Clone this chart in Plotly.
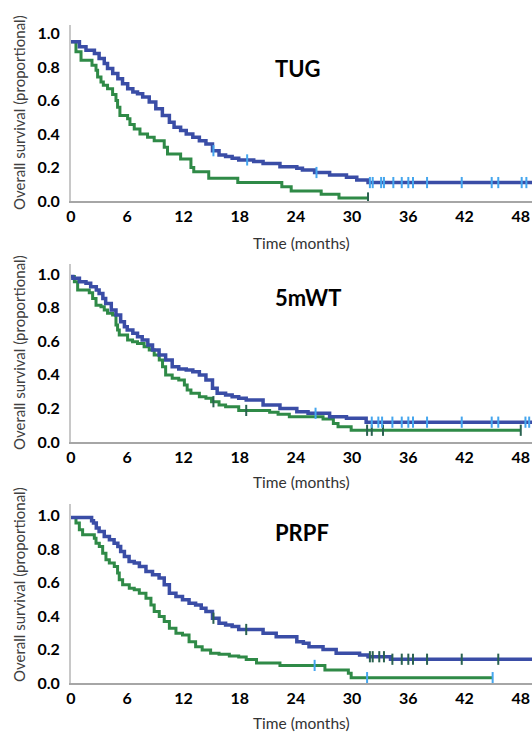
import plotly.graph_objects as go

# ---------------- data ----------------
x_ticks = [0, 6, 12, 18, 24, 30, 36, 42, 48]
y_ticks = [0.0, 0.2, 0.4, 0.6, 0.8, 1.0]
panel_titles = ["TUG", "5mWT", "PRPF"]

# TUG
tug_blue_t = [0, 0.9, 1.6, 2.5, 3.0, 3.55, 3.9, 4.45, 5.0, 5.5, 6.05, 6.6, 7.1, 7.65, 8.35, 9.05, 9.75,
              10.5, 11.0, 11.7, 12.3, 13.0, 13.7, 14.4, 15.1, 15.8, 16.5, 17.2, 17.9, 19.5, 20.5, 22.3,
              24.1, 24.7, 26.0, 27.6, 29.4, 30.5, 31.7, 50]
tug_blue_s = [0.95, 0.92, 0.90, 0.88, 0.85, 0.82, 0.79, 0.76, 0.73, 0.70, 0.67, 0.65, 0.64, 0.62, 0.59, 0.55,
              0.51, 0.47, 0.44, 0.42, 0.40, 0.38, 0.36, 0.34, 0.30, 0.275, 0.265, 0.255, 0.245, 0.235,
              0.224, 0.204, 0.195, 0.185, 0.17, 0.155, 0.141, 0.125, 0.11, 0.11]
tug_blue_cens = [15.2, 18.8, 26.2, 31.9, 32.2, 33.1, 33.4, 34.4, 35.3, 36.0, 36.5, 38.0, 41.7, 44.9,
                 45.6, 48.1, 48.6]
tug_green_t = [0, 0.53, 1.07, 2.24, 2.67, 2.84, 3.2, 3.45, 3.9, 4.44, 4.8, 4.97, 5.22, 6.04, 6.29, 6.75,
               7.36, 8.17, 8.88, 9.95, 10.3, 11.7, 12.8, 13.1, 14.7, 17.8, 22.5, 23.5, 26.7, 28.6, 31.7]
tug_green_s = [0.95, 0.89, 0.84, 0.81, 0.78, 0.74, 0.71, 0.69, 0.67, 0.635, 0.60, 0.56, 0.51, 0.49, 0.456,
               0.43, 0.40, 0.38, 0.36, 0.32, 0.28, 0.25, 0.20, 0.175, 0.135, 0.11, 0.085, 0.06, 0.04,
               0.018, 0.018]
tug_green_cens = [31.7]

# 5mWT
mwt_blue_t = [0, 0.2, 0.9, 1.6, 2.1, 2.7, 3.0, 3.4, 3.7, 4.3, 4.8, 5.3, 5.7, 6.0, 6.6, 7.1, 7.6, 8.2, 8.7,
              9.4, 10.1, 10.8, 11.5, 12.3, 13.0, 13.7, 14.4, 15.1, 15.6, 16.5, 17.2, 17.9, 18.7, 20.5,
              22.3, 24.1, 25.3, 27.6, 29.4, 31.5, 50]
mwt_blue_s = [0.985, 0.975, 0.955, 0.945, 0.925, 0.905, 0.885, 0.855, 0.825, 0.786, 0.756, 0.716, 0.687,
              0.667, 0.647, 0.627, 0.607, 0.577, 0.548, 0.518, 0.488, 0.448, 0.435, 0.429, 0.419, 0.399,
              0.369, 0.32, 0.29, 0.28, 0.27, 0.26, 0.25, 0.22, 0.20, 0.18, 0.171, 0.15, 0.141, 0.118,
              0.118]
mwt_blue_cens = [26.1, 32.1, 32.8, 33.2, 34.3, 35.3, 36.0, 36.5, 38.0, 41.7, 44.9, 45.6, 48.5, 48.9]
mwt_green_t = [0, 0.36, 0.71, 1.95, 2.31, 2.67, 3.2, 3.55, 3.9, 4.44, 4.8, 4.97, 5.15, 6.04, 6.57, 7.1,
               7.8, 8.35, 8.88, 9.42, 9.77, 10.1, 10.8, 11.5, 12.1, 12.4, 12.8, 13.7, 14.4, 15.0, 15.8,
               16.5, 17.9, 21.2, 22.1, 23.3, 26.9, 28.0, 28.5, 29.9, 48.0]
mwt_green_s = [0.985, 0.954, 0.905, 0.889, 0.855, 0.815, 0.806, 0.786, 0.766, 0.756, 0.696, 0.667, 0.637,
               0.607, 0.597, 0.587, 0.567, 0.548, 0.518, 0.488, 0.448, 0.399, 0.379, 0.369, 0.339, 0.31,
               0.29, 0.27, 0.26, 0.24, 0.22, 0.21, 0.188, 0.177, 0.165, 0.15, 0.137, 0.11, 0.091, 0.07,
               0.07]
mwt_green_cens = [15.2, 18.7, 31.6, 32.1, 33.3, 48.0]

# PRPF
prpf_blue_t = [0, 2.2, 2.4, 2.7, 3.0, 3.55, 4.1, 4.6, 5.0, 5.3, 5.7, 6.2, 6.75, 7.3, 8.0, 8.7, 9.4, 9.95,
               10.5, 11.2, 11.9, 12.6, 13.3, 13.9, 14.4, 15.1, 15.8, 16.5, 17.2, 17.9, 20.5, 21.9, 24.1,
               24.8, 25.4, 26.9, 28.3, 30.8, 31.7, 34.1, 50]
prpf_blue_s = [0.99, 0.97, 0.956, 0.926, 0.906, 0.876, 0.856, 0.836, 0.816, 0.786, 0.756, 0.727, 0.717,
               0.697, 0.667, 0.647, 0.627, 0.587, 0.537, 0.517, 0.497, 0.477, 0.467, 0.447, 0.427, 0.387,
               0.357, 0.347, 0.337, 0.32, 0.297, 0.277, 0.247, 0.237, 0.217, 0.20, 0.178, 0.168, 0.157,
               0.142, 0.142]
prpf_blue_cens = [15.2, 18.7, 31.9, 32.2, 32.9, 33.4, 34.3, 35.3, 36.0, 36.5, 38.0, 41.7, 45.6]
prpf_green_t = [0, 0.53, 0.89, 1.24, 2.49, 2.67, 3.02, 3.38, 3.73, 4.09, 4.62, 4.97, 5.15, 5.51, 6.22,
                6.75, 7.29, 8.0, 8.53, 8.88, 9.42, 9.95, 10.5, 11.2, 11.9, 12.6, 13.3, 14.0, 14.9, 15.8,
                16.9, 17.9, 18.7, 19.8, 22.3, 27.1, 29.6, 29.9, 45.0]
prpf_green_s = [0.99, 0.956, 0.916, 0.886, 0.866, 0.836, 0.816, 0.776, 0.737, 0.717, 0.697, 0.657, 0.617,
                0.587, 0.567, 0.557, 0.537, 0.507, 0.467, 0.427, 0.397, 0.367, 0.327, 0.297, 0.287,
                0.247, 0.217, 0.198, 0.178, 0.172, 0.162, 0.155, 0.14, 0.12, 0.105, 0.078, 0.058, 0.032,
                0.032]
prpf_green_cens = [26.0, 31.6, 45.0]

# ---------------- style ----------------
W, H = 532, 733
BLUE = "#3a4da6"
GREEN = "#2f8a47"
LIGHT_BLUE = "#45a6ee"
DARK_GREEN = "#2a6250"
FONT = "Lato"

panels = [
    dict(bottom=201, top=25, ymax=1.05, title_xy=(298, 68), ytitle_y=113, xtitle_y=243,
         blue=(tug_blue_t, tug_blue_s, tug_blue_cens, LIGHT_BLUE),
         green=(tug_green_t, tug_green_s, tug_green_cens, DARK_GREEN)),
    dict(bottom=442, top=264, ymax=1.06, title_xy=(308, 297), ytitle_y=353, xtitle_y=482,
         blue=(mwt_blue_t, mwt_blue_s, mwt_blue_cens, LIGHT_BLUE),
         green=(mwt_green_t, mwt_green_s, mwt_green_cens, DARK_GREEN)),
    dict(bottom=683, top=504, ymax=1.07, title_xy=(302, 532), ytitle_y=585, xtitle_y=723,
         blue=(prpf_blue_t, prpf_blue_s, prpf_blue_cens, DARK_GREEN),
         green=(prpf_green_t, prpf_green_s, prpf_green_cens, LIGHT_BLUE)),
]
X0 = 71
XMAX = 49.2


def step_value(t, times, surv):
    v = surv[0]
    for tt, ss in zip(times, surv):
        if tt <= t:
            v = ss
    return v


fig = go.Figure()
layout = dict(width=W, height=H, margin=dict(l=0, r=0, t=0, b=0, autoexpand=False),
              paper_bgcolor="white", plot_bgcolor="white", showlegend=False,
              annotations=[])

for i, p in enumerate(panels):
    k = "" if i == 0 else str(i + 1)
    xa, ya = "x" + k, "y" + k
    for key, col, width in [("green", GREEN, 3), ("blue", BLUE, 3.5)]:
        t, s, cens, ccol = p[key]
        fig.add_trace(go.Scatter(x=t, y=s, mode="lines", line=dict(color=col, width=width, shape="hv"),
                                 xaxis=xa, yaxis=ya, hoverinfo="skip"))
        fig.add_trace(go.Scatter(x=cens, y=[step_value(c, t, s) for c in cens], mode="markers",
                                 marker=dict(symbol="line-ns", size=8, line=dict(color=ccol, width=2)),
                                 xaxis=xa, yaxis=ya, hoverinfo="skip"))
    ydom = [(H - p["bottom"]) / H, (H - p["top"]) / H]
    layout["xaxis" + k] = dict(domain=[X0 / W, 1], range=[0, XMAX], anchor=ya, automargin=False,
                               tickvals=x_ticks, ticktext=[str(v) for v in x_ticks],
                               showgrid=False, zeroline=False, showline=True,
                               linecolor="#a6a6a6", linewidth=2, ticks="",
                               tickfont=dict(family=FONT, size=16, color="#000000", weight="bold"))
    layout["yaxis" + k] = dict(domain=ydom, range=[0, p["ymax"]], anchor=xa, automargin=False,
                               tickvals=y_ticks, ticktext=[f"{v:.1f}" for v in y_ticks],
                               showgrid=False, zeroline=False, showline=True,
                               linecolor="#c8c8c8", linewidth=2, ticks="", ticklabelstandoff=6,
                               tickfont=dict(family=FONT, size=16, color="#000000", weight="bold"))
    tx, ty = p["title_xy"]
    layout["annotations"].append(dict(text=panel_titles[i], x=tx / W, y=1 - ty / H, xref="paper",
                                      yref="paper", showarrow=False, xanchor="center", yanchor="middle",
                                      font=dict(family=FONT, size=22, color="#000000", weight="bold")))
    layout["annotations"].append(dict(text="Time (months)", x=301 / W, y=1 - p["xtitle_y"] / H,
                                      xref="paper", yref="paper", showarrow=False, xanchor="center",
                                      yanchor="middle",
                                      font=dict(family=FONT, size=15.5, color="#333333")))
    layout["annotations"].append(dict(text="Overall survival (proportional)", x=19 / W,
                                      y=1 - p["ytitle_y"] / H, xref="paper", yref="paper",
                                      showarrow=False, xanchor="center", yanchor="middle", textangle=-90,
                                      font=dict(family=FONT, size=15, color="#404040")))

fig.update_layout(**layout)
fig.write_html("out.html", config={"displayModeBar": False},
               post_script="document.body.style.margin='0';document.body.style.overflow='hidden';")
